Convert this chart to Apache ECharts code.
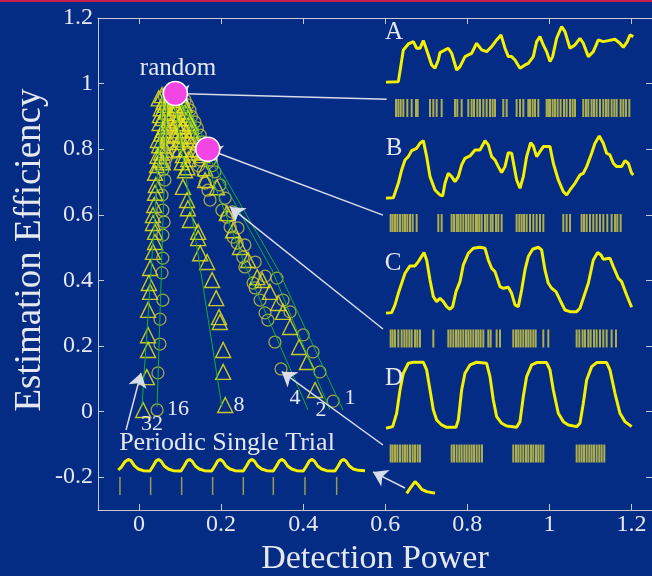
<!DOCTYPE html>
<html><head><meta charset="utf-8">
<script src="https://cdn.jsdelivr.net/npm/echarts@6/dist/echarts.min.js"></script>
<style>html,body{margin:0;padding:0;background:#052c85;}#c{width:652px;height:576px;}</style>
</head><body><div id="c"></div>
<script>
// ---- main axis ticks ----
const xTicks = [0, 0.2, 0.4, 0.6, 0.8, 1, 1.2];
const yTicks = [-0.2, 0, 0.2, 0.4, 0.6, 0.8, 1, 1.2];

// ---- fan scatter data [detection power, estimation efficiency] ----
const s32 = [[0.056,0.965],[0.048,0.955],[0.060,0.945],[0.063,0.935],[0.053,0.925],[0.066,0.915],[0.051,0.904],[0.058,0.895],[0.071,0.889],[0.050,0.880],[0.064,0.870],[0.058,0.859],[0.055,0.848],[0.068,0.840],[0.046,0.828],[0.049,0.812],[0.060,0.812],[0.063,0.798],[0.054,0.790],[0.045,0.780],[0.051,0.767],[0.058,0.760],[0.044,0.752],[0.039,0.728],[0.041,0.691],[0.039,0.667],[0.037,0.630],[0.034,0.599],[0.034,0.575],[0.039,0.548],[0.039,0.517],[0.034,0.487],[0.027,0.438],[0.024,0.392],[0.027,0.365],[0.022,0.310],[0.022,0.233],[0.022,0.188],[0.019,0.105],[0.010,0.005]];
const s16 = [[0.071,0.974],[0.062,0.960],[0.076,0.950],[0.074,0.938],[0.083,0.925],[0.066,0.920],[0.070,0.905],[0.080,0.895],[0.085,0.880],[0.077,0.870],[0.071,0.865],[0.068,0.850],[0.080,0.835],[0.063,0.834],[0.072,0.815],[0.076,0.804],[0.083,0.790],[0.070,0.785],[0.066,0.773],[0.062,0.755],[0.058,0.737],[0.063,0.706],[0.056,0.660],[0.058,0.614],[0.061,0.578],[0.058,0.538],[0.058,0.468],[0.056,0.423],[0.058,0.340],[0.051,0.282],[0.051,0.206],[0.046,0.118],[0.044,0.005]];
const s8 = [[0.080,0.965],[0.085,0.950],[0.088,0.935],[0.092,0.925],[0.082,0.910],[0.100,0.905],[0.095,0.895],[0.090,0.880],[0.105,0.870],[0.100,0.858],[0.088,0.845],[0.110,0.840],[0.100,0.830],[0.095,0.822],[0.115,0.800],[0.098,0.800],[0.107,0.782],[0.120,0.770],[0.104,0.760],[0.118,0.745],[0.112,0.736],[0.107,0.685],[0.117,0.645],[0.119,0.620],[0.124,0.584],[0.144,0.548],[0.144,0.529],[0.149,0.483],[0.166,0.456],[0.178,0.401],[0.188,0.346],[0.195,0.288],[0.197,0.273],[0.205,0.188],[0.205,0.121],[0.210,0.020]];
const s4 = [[0.095,0.956],[0.100,0.945],[0.105,0.926],[0.110,0.910],[0.098,0.900],[0.112,0.889],[0.118,0.875],[0.124,0.852],[0.128,0.835],[0.118,0.820],[0.136,0.813],[0.140,0.790],[0.149,0.767],[0.145,0.750],[0.156,0.731],[0.161,0.697],[0.168,0.675],[0.173,0.645],[0.202,0.614],[0.214,0.593],[0.222,0.563],[0.229,0.532],[0.239,0.514],[0.253,0.471],[0.258,0.441],[0.278,0.392],[0.283,0.377],[0.295,0.340],[0.307,0.301],[0.314,0.279],[0.331,0.212],[0.346,0.130]];
const s2 = [[0.100,0.965],[0.105,0.950],[0.112,0.935],[0.115,0.915],[0.119,0.895],[0.125,0.880],[0.108,0.870],[0.129,0.858],[0.135,0.840],[0.122,0.830],[0.144,0.822],[0.148,0.800],[0.132,0.790],[0.154,0.782],[0.161,0.742],[0.161,0.706],[0.190,0.684],[0.214,0.605],[0.229,0.553],[0.246,0.502],[0.266,0.462],[0.288,0.410],[0.300,0.401],[0.319,0.365],[0.339,0.331],[0.351,0.304],[0.368,0.258],[0.390,0.197],[0.409,0.151],[0.429,0.066]];
const s1 = [[0.112,0.950],[0.118,0.935],[0.124,0.919],[0.128,0.900],[0.136,0.883],[0.142,0.865],[0.130,0.850],[0.149,0.843],[0.155,0.822],[0.145,0.810],[0.161,0.804],[0.167,0.785],[0.173,0.767],[0.178,0.750],[0.185,0.731],[0.197,0.691],[0.210,0.651],[0.227,0.609],[0.241,0.560],[0.258,0.508],[0.283,0.456],[0.307,0.413],[0.336,0.407],[0.351,0.340],[0.368,0.304],[0.400,0.234],[0.424,0.182],[0.441,0.121],[0.473,0.032]];

// ---- fitted lines ----
const fit32 = [[0.058,0.965],[0.007,0.014]];
const fit16 = [[0.068,0.965],[0.044,0.014]];
const fit8  = [[0.083,0.965],[0.202,0.014]];
const fit4  = [[0.088,0.971],[0.161,0.767],[0.263,0.432],[0.412,0.005]];
const fit2  = [[0.093,0.971],[0.175,0.767],[0.324,0.432],[0.465,0.005]];
const fit1  = [[0.100,0.971],[0.185,0.767],[0.339,0.432],[0.497,0.005]];

// ---- highlighted examples ----
const examples = [[0.0886,0.970],[0.1675,0.80]];

// ---- connector arrows [from, to] ----
const arrows = [
  [[0.6035,0.952],[0.0886,0.970]],
  [[0.5945,0.599],[0.1675,0.80]],
  [[0.5945,0.2518],[0.2217,0.624]],
  [[0.5945,-0.1018],[0.3477,0.1216]],
  [[-0.0317,-0.056],[0.0049,0.1177]],
  [[0.648,-0.233],[0.570,-0.184]]
];

// ---- inset traces [time, rate] ----
const traceA = [[0,0],[37,2],[52,97],[67,115],[82,122],[92,102],[102,102],[112,125],[122,97],[137,52],[147,42],[157,67],[162,89],[177,97],[187,102],[197,87],[212,37],[222,47],[237,77],[247,82],[257,87],[272,117],[287,97],[302,92],[317,107],[332,127],[345,142],[357,102],[367,77],[377,77],[387,67],[402,42],[417,52],[427,57],[442,77],[452,122],[462,137],[472,112],[482,92],[492,62],[500,77],[512,132],[527,167],[537,152],[552,102],[567,112],[582,132],[592,117],[607,77],[622,92],[637,127],[652,122],[667,125],[687,129],[702,117],[712,105],[724,122],[732,142],[742,137]];
const traceB = [[0,0],[22,2],[37,45],[47,85],[57,115],[67,125],[77,143],[92,150],[102,165],[112,173],[122,125],[132,65],[147,25],[162,10],[170,7],[177,45],[187,75],[197,65],[207,50],[217,65],[227,100],[237,120],[252,127],[267,145],[282,145],[297,173],[307,160],[317,125],[327,115],[337,95],[347,77],[357,95],[367,137],[377,135],[392,55],[402,30],[412,65],[422,125],[434,167],[442,157],[452,125],[462,140],[472,155],[492,155],[502,105],[517,55],[532,20],[542,10],[552,25],[567,45],[582,70],[592,75],[602,95],[617,135],[627,165],[640,187],[652,165],[662,135],[672,130],[682,105],[692,95],[707,95],[717,113],[727,105],[737,75],[742,70]];
const traceC = [[0,0],[17,2],[27,25],[37,60],[47,90],[57,120],[72,142],[87,142],[97,155],[114,182],[122,160],[132,100],[142,50],[152,35],[162,45],[172,35],[182,20],[192,12],[200,20],[210,65],[222,95],[232,145],[247,180],[262,195],[282,198],[297,195],[307,160],[317,135],[327,125],[342,80],[352,75],[367,78],[377,60],[387,25],[397,20],[407,70],[417,130],[427,170],[440,192],[457,198],[467,190],[477,130],[487,90],[497,75],[510,65],[522,40],[537,10],[552,5],[572,5],[582,15],[592,45],[607,90],[622,160],[635,182],[645,175],[652,162],[672,165],[682,140],[697,105],[707,95],[722,55],[737,18]];
const traceD = [[0,0],[20,5],[32,45],[42,115],[52,165],[67,195],[82,198],[112,198],[122,175],[132,115],[142,55],[152,25],[167,10],[182,3],[210,3],[217,25],[227,115],[237,165],[252,190],[272,198],[302,195],[312,155],[322,85],[332,35],[347,15],[362,7],[392,3],[402,20],[412,95],[422,155],[437,190],[452,197],[482,197],[492,175],[502,115],[517,45],[532,20],[547,10],[572,5],[582,15],[592,75],[602,145],[617,185],[632,197],[662,197],[672,175],[687,105],[702,45],[717,20],[737,5]];
const tracePeriodic = [[0,5],[10,15],[20,30],[30,37],[38,33],[48,18],[60,8],[75,3],[95,2],[105,18],[113,32],[120,37],[128,32],[138,17],[150,8],[165,3],[188,2],[198,18],[206,32],[213,37],[221,32],[231,17],[243,8],[258,3],[280,2],[290,18],[298,32],[305,37],[313,32],[323,17],[335,8],[350,3],[375,2],[385,18],[393,32],[400,37],[408,32],[418,17],[430,8],[445,3],[465,2],[475,18],[483,32],[490,37],[498,32],[508,17],[520,8],[535,3],[555,2],[565,18],[573,32],[580,37],[588,32],[598,17],[610,8],[625,3],[650,2],[660,18],[668,32],[675,37],[683,32],[693,17],[705,8],[720,4],[740,3]];
const traceSingle = [[0,0],[10,15],[25,35],[35,25],[45,12],[60,5],[85,0]];

// ---- spike times ----
const spikesA = [30,37,44,52,64,77,90,95,132,142,152,167,207,214,227,247,257,264,274,282,292,302,312,320,327,352,362,392,402,412,427,432,440,447,457,482,487,492,500,507,515,524,534,542,552,560,567,592,600,607,617,624,632,642,652,660,667,677,685,692,704,712,720,730];
const spikesB = [14,20,27,34,42,50,57,64,72,80,92,157,167,197,204,212,217,224,232,240,247,254,262,270,274,280,287,297,304,314,320,330,337,347,392,400,407,414,422,432,442,452,462,472,532,542,552,587,594,602,612,622,632,642,652,664,677,687,694,704];
const spikesC = [14,20,27,37,47,55,62,70,77,87,94,102,142,187,194,202,210,217,224,232,240,247,254,262,270,277,284,292,307,314,332,342,382,390,397,404,412,420,427,434,442,449,472,487,572,580,590,597,607,614,624,632,642,652,662,677,690];
const spikesD = [14,20,27,34,42,50,57,64,72,80,87,95,102,197,204,212,220,227,235,242,250,257,264,272,280,288,382,390,397,404,412,420,427,435,442,450,457,464,472,572,580,587,594,602,610,617,624,632,640,647,655];
const spikesPeriodic = [5,97,190,283,375,465,560,655];

// ================= build options =================
const FONT = 'Liberation Serif';
const TXT = '#e6e8f0';
const AX = '#c4c8d4';
const chart = echarts.init(document.getElementById('c'), null, {renderer:'canvas'});

const grids = [{left:98, top:18, right:0, bottom:66, outerBoundsMode:'none', containLabel:false}];
const xAxes = [
  {type:'value', gridIndex:0, min:-0.1, max:1.25, position:'bottom',
   axisLine:{onZero:false, lineStyle:{color:AX}}, splitLine:{show:false},
   axisTick:{inside:true, length:6, lineStyle:{color:AX}, customValues:xTicks},
   axisLabel:{customValues:xTicks, color:TXT, fontFamily:FONT, fontSize:24, margin:3},
   name:'Detection Power', nameLocation:'middle', nameGap:27,
   nameTextStyle:{color:TXT, fontFamily:FONT, fontSize:34}},
  {type:'value', gridIndex:0, min:-0.1, max:1.25, position:'top',
   axisLine:{onZero:false, lineStyle:{color:AX}}, splitLine:{show:false},
   axisTick:{inside:true, length:6, lineStyle:{color:AX}, customValues:xTicks},
   axisLabel:{show:false}}
];
const yAxes = [
  {type:'value', gridIndex:0, min:-0.3, max:1.2, position:'left',
   axisLine:{onZero:false, lineStyle:{color:AX}}, splitLine:{show:false},
   axisTick:{inside:true, length:6, lineStyle:{color:AX}, customValues:yTicks},
   axisLabel:{customValues:yTicks, color:TXT, fontFamily:FONT, fontSize:24, margin:5}},
  {type:'value', gridIndex:0, min:-0.3, max:1.2, position:'right',
   axisLine:{onZero:false, lineStyle:{color:AX}}, splitLine:{show:false},
   axisTick:{inside:true, length:6, lineStyle:{color:AX}, customValues:yTicks},
   axisLabel:{show:false}}
];
const series = [];

function addInset(rect, xmax, ymin, ymax){
  rect.outerBoundsMode = 'none';
  rect.containLabel = false;
  grids.push(rect);
  const gi = grids.length - 1;
  xAxes.push({type:'value', gridIndex:gi, min:0, max:xmax, show:false});
  yAxes.push({type:'value', gridIndex:gi, min:ymin, max:ymax, show:false});
  return xAxes.length - 1;
}

const triStyle = {color:'rgba(0,0,0,0)', borderColor:'rgba(232,228,20,0.85)', borderWidth:1.4, opacity:1};
const cirStyle = {color:'rgba(0,0,0,0)', borderColor:'rgba(200,196,55,0.8)', borderWidth:1.3, opacity:1};
const fans = [
  {name:'32', data:s32, fit:fit32, tri:true},
  {name:'16', data:s16, fit:fit16, tri:false},
  {name:'8', data:s8, fit:fit8, tri:true},
  {name:'4', data:s4, fit:fit4, tri:false},
  {name:'2', data:s2, fit:fit2, tri:true},
  {name:'1', data:s1, fit:fit1, tri:false}
];
fans.forEach(f => {
  series.push({type:'scatter', name:f.name, xAxisIndex:0, yAxisIndex:0, data:f.data,
    symbol: f.tri ? 'triangle' : 'circle', symbolSize: f.tri ? 15 : 12,
    itemStyle: f.tri ? triStyle : cirStyle, z:3, silent:true});
});
fans.forEach(f => {
  series.push({type:'line', xAxisIndex:0, yAxisIndex:0, data:f.fit, symbol:'none',
    lineStyle:{color:'#10b02c', width:1}, z:4, silent:true});
});
// arrows
series.push({type:'lines', coordinateSystem:'cartesian2d', xAxisIndex:0, yAxisIndex:0,
  data: arrows.map(a => ({coords:a})), symbol:['none','arrow'], symbolSize:14,
  lineStyle:{color:'#d8dce8', width:1.5, opacity:1, curveness:0}, z:5, silent:true});
// examples
series.push({type:'scatter', xAxisIndex:0, yAxisIndex:0, data:examples, symbol:'circle', symbolSize:24,
  itemStyle:{color:'#f344e4', borderColor:'#ffffff', borderWidth:1.5, opacity:1}, z:8, silent:true});

// insets
const traceW = 247.3, traceH = 66.7;
const insets = [
  {trace:traceA, spikes:spikesA, base:82.3, rTop:99},
  {trace:traceB, spikes:spikesB, base:198.3, rTop:214},
  {trace:traceC, spikes:spikesC, base:313.3, rTop:329.5},
  {trace:traceD, spikes:spikesD, base:428.3, rTop:444.5}
];
insets.forEach(ins => {
  let ax = addInset({left:386, top:ins.base - traceH, width:traceW, height:traceH}, 742, 0, 200);
  series.push({type:'line', xAxisIndex:ax, yAxisIndex:ax, data:ins.trace, symbol:'none',
    lineStyle:{color:'#f4f000', width:3}, z:4, silent:true});
  ax = addInset({left:386, top:ins.rTop, width:traceW, height:18}, 742, 0, 1);
  series.push({type:'scatter', xAxisIndex:ax, yAxisIndex:ax, data:ins.spikes.map(t => [t,0.5]),
    symbol:'rect', symbolSize:[2,18], itemStyle:{color:'rgb(188,186,70)', opacity:0.92}, z:3, silent:true});
});
// periodic single trial
let axp = addInset({left:118.3, top:471.7 - traceH, width:246.7, height:traceH}, 740, 0, 200);
series.push({type:'line', xAxisIndex:axp, yAxisIndex:axp, data:tracePeriodic, symbol:'none',
  lineStyle:{color:'#f4f000', width:3}, z:4, silent:true});
axp = addInset({left:118.3, top:477, width:246.7, height:18}, 740, 0, 1);
series.push({type:'scatter', xAxisIndex:axp, yAxisIndex:axp, data:spikesPeriodic.map(t => [t,0.5]),
  symbol:'rect', symbolSize:[1.5,18], itemStyle:{color:'rgb(160,160,80)', opacity:0.95}, z:3, silent:true});
axp = addInset({left:406.7, top:493.3 - traceH, width:28.3, height:traceH}, 85, 0, 200);
series.push({type:'line', xAxisIndex:axp, yAxisIndex:axp, data:traceSingle, symbol:'none',
  lineStyle:{color:'#f4f000', width:3}, z:4, silent:true});

function txt(s, x, y, size, rot){
  return {type:'text', x:x, y:y, rotation:rot || 0, silent:true, z:10,
    style:{text:s, fill:TXT, font:size + 'px "' + FONT + '"', textAlign:'center', textVerticalAlign:'middle'}};
}
const graphic = [
  {type:'rect', shape:{x:0, y:0, width:652, height:2}, style:{fill:'#c8204c'}, silent:true},
  txt('Estimation Efficiency', 30, 250, 37, Math.PI / 2),
  txt('random', 178, 68, 25),
  txt('A', 394, 32, 25), txt('B', 394, 148, 25), txt('C', 393, 263, 25), txt('D', 394, 378, 25),
  txt('32', 152, 424, 22), txt('16', 178, 409, 22), txt('8', 239, 405, 22),
  txt('4', 295, 398, 22), txt('2', 321, 410, 22), txt('1', 350, 398, 22),
  txt('Periodic Single Trial', 227, 443, 26)
];

chart.setOption({
  backgroundColor:'#052c85',
  animation:false,
  grid:grids, xAxis:xAxes, yAxis:yAxes, series:series, graphic:graphic
});
</script></body></html>
